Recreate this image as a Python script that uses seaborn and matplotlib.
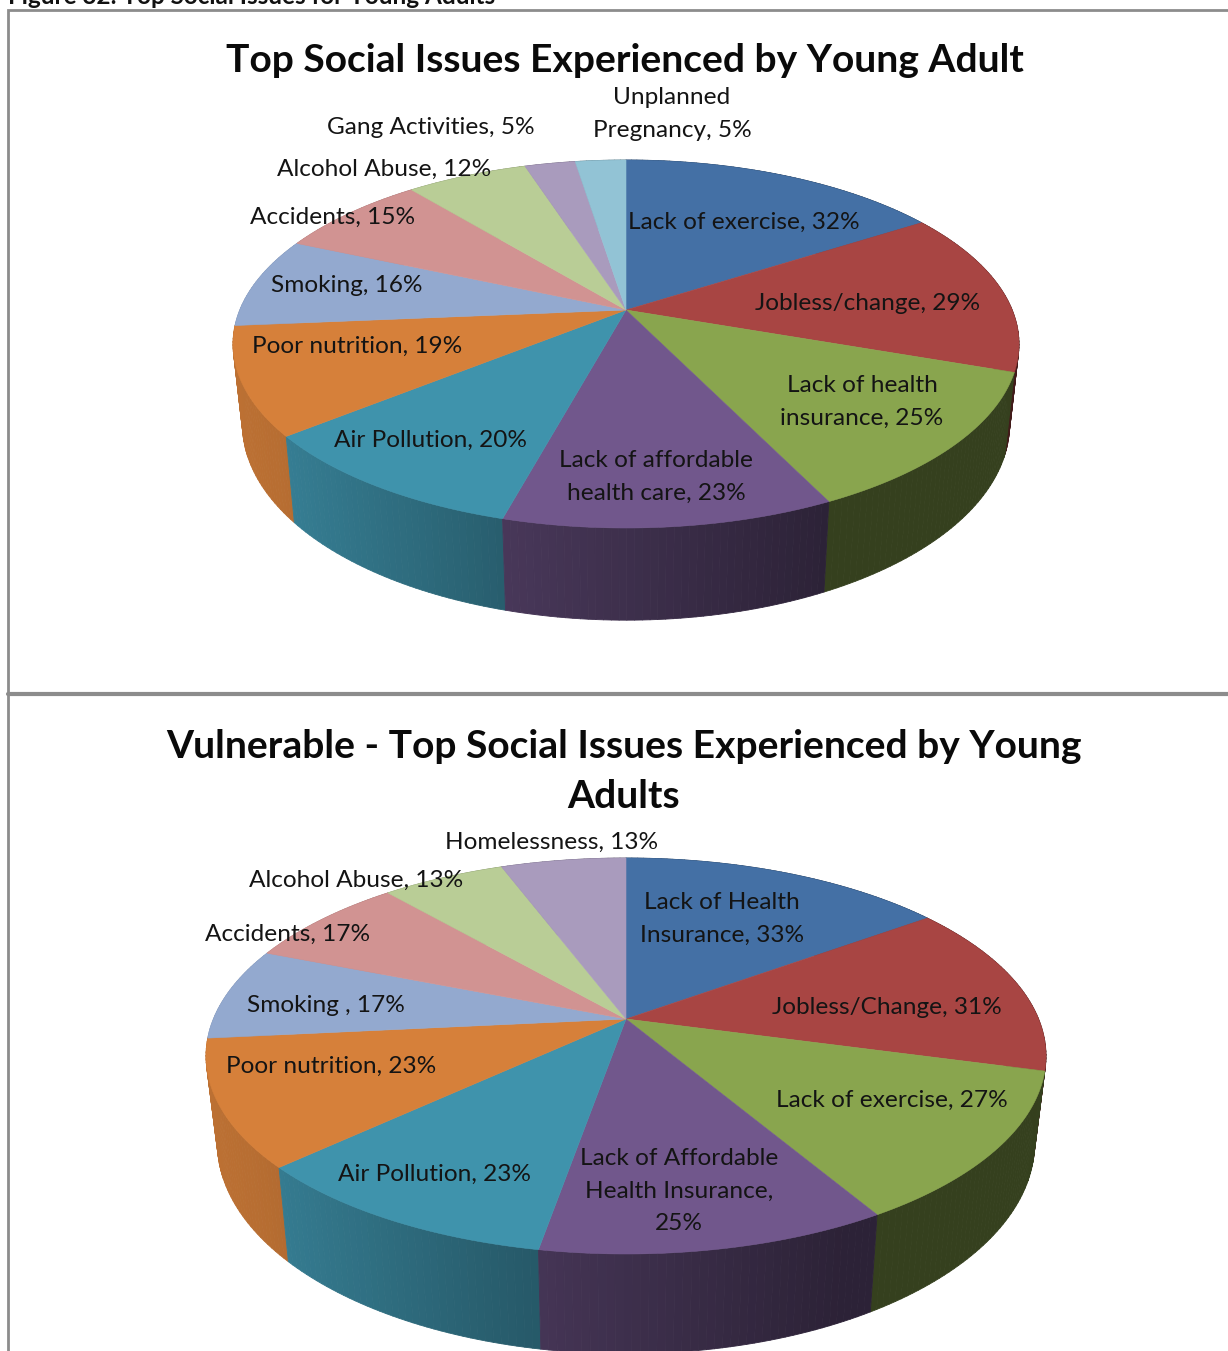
import numpy as np
import matplotlib
matplotlib.use('Agg')
import matplotlib.pyplot as plt
from matplotlib.collections import PolyCollection
import seaborn as sns

sns.set_theme(style='white')
plt.rcParams['font.family'] = ['Lato', 'DejaVu Sans']

# Dados dos dois graficos
values_adult = [32, 29, 25, 23, 20, 19, 16, 15, 12, 5, 5]
labels_adult = ['Lack of exercise, 32%', 'Jobless/change, 29%', 'Lack of health\ninsurance, 25%',
                'Lack of affordable\nhealth care, 23%', 'Air Pollution, 20%', 'Poor nutrition, 19%',
                'Smoking, 16%', 'Accidents, 15%', 'Alcohol Abuse, 12%', 'Gang Activities, 5%',
                'Unplanned\nPregnancy, 5%']
label_x_adult = [744, 868, 862, 656, 431, 357, 347, 333, 384, 431, 672]
label_y_adult = [222, 303, 402, 477, 440, 346, 285, 217, 169, 127, 114]

values_vuln = [33.4, 31.4, 27.3, 25.1, 23.0, 22.9, 16.8, 16.8, 12.6, 12.8]
labels_vuln = ['Lack of Health\nInsurance, 33%', 'Jobless/Change, 31%', 'Lack of exercise, 27%',
               'Lack of Affordable\nHealth Insurance,\n25%', 'Air Pollution, 23%', 'Poor nutrition, 23%',
               'Smoking , 17%', 'Accidents, 17%', 'Alcohol Abuse, 13%', 'Homelessness, 13%']
label_x_vuln = [722, 887, 892, 679, 435, 331, 326, 288, 356, 552]
label_y_vuln = [919, 1008, 1100, 1191, 1174, 1066, 1006, 934, 880, 842]

colors = sns.color_palette(['#4470A5', '#A84543', '#89A54E', '#71578C', '#3F93AC', '#D6803A',
                            '#93A9CF', '#D19392', '#B9CD96', '#A99BBD', '#92C3D5'])

fig = plt.figure(figsize=(12.28, 13.51), dpi=100)
ax = fig.add_axes([0, 0, 1, 1])
ax.set_xlim(0, 1228)
ax.set_ylim(1351, 0)
ax.axis('off')


def project(theta, cx, cy, rx, back, front):
    # circulo em perspectiva: theta medido do topo, sentido horario
    k = (front - back) / (front + back)
    a = 2 * front * back / (front + back)
    b = rx * np.sqrt(1 - k ** 2)
    u, v = np.sin(theta), np.cos(theta)
    return cx + b * u / (1 + k * v), cy - a * v / (1 + k * v)


def pie3d(values, cx, cy, rx, back, front, shrink, drop):
    edges = np.radians(np.cumsum([0] + values) / sum(values) * 360)

    # parede lateral
    strips = []
    for i in range(len(values)):
        n = max(int((edges[i + 1] - edges[i]) * 60), 2)
        th = np.linspace(edges[i], edges[i + 1], n + 1)
        x, y = project(th, cx, cy, rx, back, front)
        xl = cx + (x - cx) * shrink
        yl = cy + drop + (y - cy) * 1.065
        for j in range(n):
            t = ((x[j] + x[j + 1]) / 2 - (cx - rx)) / (2 * rx)
            f = np.interp(t, [0, 0.07, 0.34, 0.76, 1], [0.88, 0.85, 0.64, 0.39, 0.39])
            strips.append((yl[j] + yl[j + 1],
                           [(x[j], y[j]), (x[j + 1], y[j + 1]), (xl[j + 1], yl[j + 1]), (xl[j], yl[j])],
                           tuple(c * f for c in colors[i])))
    # de tras para frente
    strips.sort(key=lambda s: s[0])
    polys = [s[1] for s in strips]
    faces = [s[2] for s in strips]
    ax.add_collection(PolyCollection(polys, facecolors=faces, edgecolors=faces, linewidths=0.6, zorder=2))

    # topo
    for i in range(len(values)):
        th = np.linspace(edges[i], edges[i + 1], 80)
        x, y = project(th, cx, cy, rx, back, front)
        ax.fill(np.r_[cx, x], np.r_[cy, y], color=colors[i], lw=0.4, zorder=3)


pie3d(values_adult, 626, 310, 393, 150, 218, 0.976, 78)
pie3d(values_vuln, 626, 1019, 420, 161, 235, 0.973, 84.5)

for txt, x, y in zip(labels_adult + labels_vuln, label_x_adult + label_x_vuln, label_y_adult + label_y_vuln):
    ax.text(x, y, txt, ha='center', va='center', fontsize=17.6, color='#141414', linespacing=1.65, zorder=5)

# Titulos
ax.text(625, 60, 'Top Social Issues Experienced by Young Adult', ha='center', va='center',
        fontsize=28.05, fontweight='bold', color='#0a0a0a')
ax.text(624, 746, 'Vulnerable - Top Social Issues Experienced by Young', ha='center', va='center',
        fontsize=28.05, fontweight='bold', color='#0a0a0a')
ax.text(624, 797, 'Adults', ha='center', va='center', fontsize=28.05, fontweight='bold', color='#0a0a0a')
ax.text(8, -4, 'Figure 32: Top Social Issues for Young Adults', ha='left', va='center',
        fontsize=17.5, fontweight='bold', color='#111111', clip_on=True)

# Moldura
ax.plot([1228, 7.5, 7.5], [9.7, 9.7, 1351], color='#8c8c8c', lw=2, solid_joinstyle='miter', clip_on=True)
ax.plot([8, 1228], [694, 694], color='#8c8c8c', lw=3, clip_on=True)

fig.savefig('out.png', dpi=100)
